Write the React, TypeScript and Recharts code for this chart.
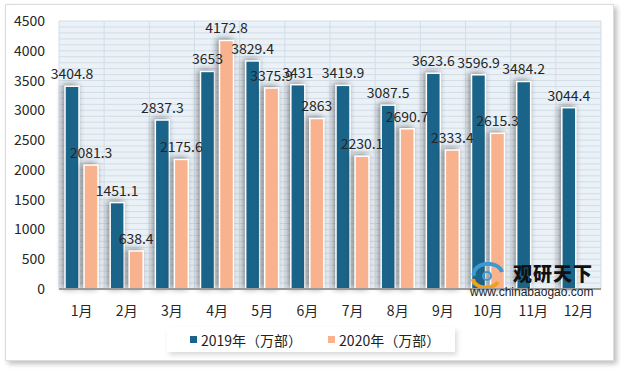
import React from "react";
import { Bar, BarChart, CartesianGrid, LabelList, Legend, XAxis, YAxis } from "recharts";

const months = ["1月", "2月", "3月", "4月", "5月", "6月", "7月", "8月", "9月", "10月", "11月", "12月"];
const sales2019 = [3404.8, 1451.1, 2837.3, 3653, 3829.4, 3431, 3419.9, 3087.5, 3623.6, 3596.9, 3484.2, 3044.4];
const sales2020: (number | null)[] = [2081.3, 638.4, 2175.6, 4172.8, 3375.9, 2863, 2230.1, 2690.7, 2333.4, 2615.3, null, null];
const yTicks = [0, 500, 1000, 1500, 2000, 2500, 3000, 3500, 4000, 4500];
const Y_MAX = 4500;
const MINOR_STEP = 100;

const DARK = "#1b6489";
const PEACH = "#f8b38e";
const FONT = '"Noto Sans CJK SC", "Noto Sans", sans-serif';

const data = months.map((m, i) => ({ month: m, y2019: sales2019[i], y2020: sales2020[i] }));

function ShadowBar(props: any) {
  const { x, y, width, height, fill } = props;
  if (!height || height <= 0) return null;
  return (
    <rect
      x={x}
      y={y}
      width={width}
      height={height}
      fill={fill}
      stroke="#ffffff"
      strokeWidth={1.5}
      style={{ filter: "drop-shadow(-2px -1px 3px rgba(0,0,0,0.45))" }}
    />
  );
}

function LegendBox({ payload }: any) {
  const items = payload && payload.length ? payload : [];
  return (
    <div
      style={{
        background: "#fff",
        boxShadow: "2px 3px 5px rgba(0,0,0,0.15)",
        width: 288,
        height: 25,
        display: "flex",
        alignItems: "center",
        paddingLeft: 23,
        boxSizing: "border-box",
        fontFamily: FONT,
        fontSize: 14,
        color: "#222",
        whiteSpace: "nowrap",
      }}
    >
      {items.map((it: any, i: number) => (
        <div key={i} style={{ display: "flex", alignItems: "center", marginRight: 26 }}>
          <span style={{ width: 7, height: 7, background: it.color, display: "inline-block", marginRight: 4 }} />
          <span>{it.value}</span>
        </div>
      ))}
    </div>
  );
}

// 細かい横縞（100刻み）と月境界の縦線
const minorRows = ({ offset }: any) =>
  Array.from({ length: Y_MAX / MINOR_STEP + 1 }, (_, i) => offset.top + offset.height * (1 - (i * MINOR_STEP) / Y_MAX));
const bandEdges = ({ offset }: any) =>
  Array.from({ length: months.length + 1 }, (_, i) => offset.left + (i * offset.width) / months.length);

export default function App() {
  return (
    <div style={{ position: "absolute", left: 0, top: 0, width: 621, height: 369, background: "#fff" }}>
      <div
        style={{
          position: "absolute",
          left: 5,
          top: 4,
          width: 607,
          height: 355,
          border: "1px solid #dcdcdc",
          boxShadow: "3px 3px 5px rgba(0,0,0,0.25)",
          background: "#fff",
        }}
      />
      <div style={{ position: "absolute", left: 0, top: 0 }}>
        <BarChart
          width={621}
          height={369}
          data={data}
          margin={{ top: 21, right: 20, left: 10, bottom: 25 }}
          barCategoryGap={6}
          barGap={5}
        >
          <CartesianGrid
            fill="#eaf1f7"
            stroke="#d3dde7"
            strokeWidth={1}
            horizontalCoordinatesGenerator={minorRows}
            verticalCoordinatesGenerator={bandEdges}
          />
          <XAxis
            dataKey="month"
            height={30}
            tickLine={false}
            axisLine={{ stroke: "#9a9a9a", strokeWidth: 2 }}
            tick={{ fill: "#262626", fontSize: 14, fontFamily: FONT }}
            tickMargin={11}
            interval={0}
          />
          <YAxis
            width={49}
            domain={[0, Y_MAX]}
            ticks={yTicks}
            axisLine={false}
            tickLine={false}
            tickSize={0}
            tickMargin={14}
            tick={{ fill: "#262626", fontSize: 14, fontFamily: FONT }}
          />
          <Legend
            verticalAlign="bottom"
            wrapperStyle={{ left: 167, top: 327, width: 288, height: 25 }}
            content={<LegendBox />}
          />
          <Bar dataKey="y2019" name="2019年（万部）" fill={DARK} shape={<ShadowBar />} isAnimationActive={false}>
            <LabelList dataKey="y2019" position="top" offset={7} fill="#262626" fontSize={14} fontFamily={FONT} />
          </Bar>
          <Bar dataKey="y2020" name="2020年（万部）" fill={PEACH} shape={<ShadowBar />} isAnimationActive={false}>
            <LabelList dataKey="y2020" position="top" offset={7} fill="#262626" fontSize={14} fontFamily={FONT} />
          </Bar>
        </BarChart>
      </div>
      {/* 透かしロゴ */}
      <svg style={{ position: "absolute", left: 470, top: 262 }} width={36} height={26}>
        <path d="M4 14 A14 10 0 0 1 32 10" fill="none" stroke="#3d9ad1" strokeWidth={4} />
        <path d="M3 17 A13 9 0 0 0 28 20" fill="none" stroke="#f0a01e" strokeWidth={4} />
        <circle cx={17} cy={14} r={4} fill="none" stroke="#3d9ad1" strokeWidth={2} />
      </svg>
      <div
        style={{
          position: "absolute",
          left: 513,
          top: 259,
          fontFamily: FONT,
          fontWeight: 900,
          fontSize: 19,
          color: "#111",
          letterSpacing: 1,
        }}
      >
        观研天下
      </div>
      <div
        style={{
          position: "absolute",
          left: 470,
          top: 286,
          fontFamily: '"Liberation Sans", Arial, sans-serif',
          fontSize: 12,
          lineHeight: "13px",
          color: "#222",
        }}
      >
        www.chinabaogao.com
      </div>
    </div>
  );
}
